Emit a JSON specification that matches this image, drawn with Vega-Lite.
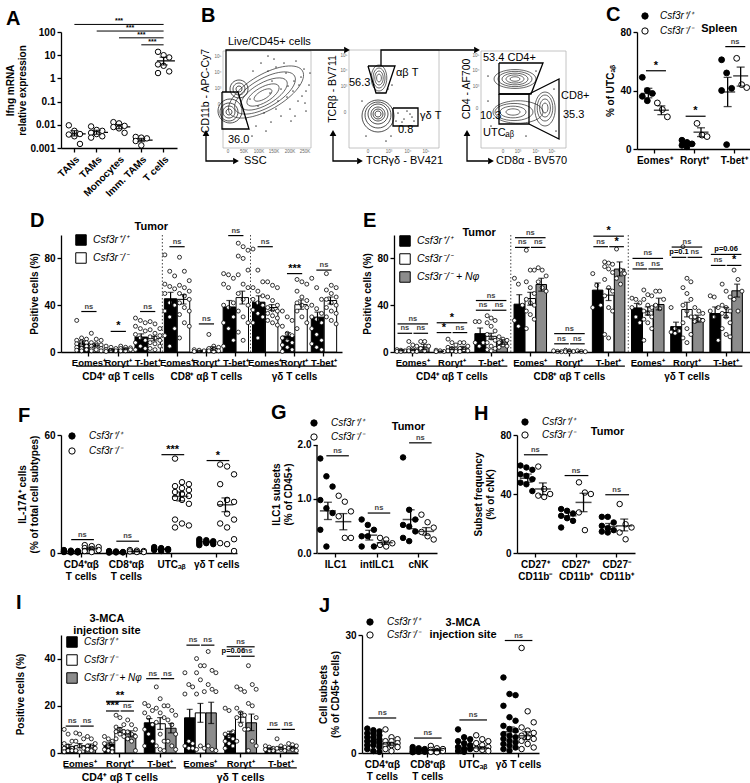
{
"$schema": "https://vega.github.io/schema/vega-lite/v6.json",
"padding": {"left": 5, "top": 5, "right": 0, "bottom": 0},
"background": "white",
"spacing": 12,
"resolve": {"scale": {"fill": "independent", "shape": "independent", "size": "independent", "color": "independent"}, "legend": {"fill": "independent", "shape": "independent", "size": "independent"}},
"config": {
 "font": "Liberation Sans",
 "view": {"stroke": null},
 "axis": {"grid": false, "domainColor": "black", "tickColor": "black", "domainWidth": 1.3, "tickWidth": 1.3, "tickSize": 4, "labelColor": "black", "labelFont": "Liberation Sans", "labelFontSize": 10, "labelFontWeight": "bold", "titleColor": "black", "titleFont": "Liberation Sans", "titleFontSize": 10, "titleFontWeight": "bold", "labelPadding": 2, "titlePadding": 4},
 "title": {"font": "Liberation Sans", "fontSize": 20, "fontWeight": "bold", "anchor": "start", "color": "black", "offset": 4},
 "legend": {"labelFont": "Liberation Sans", "labelFontStyle": "italic", "labelFontSize": 10, "labelColor": "black", "symbolStrokeColor": "black", "symbolStrokeWidth": 1, "rowPadding": 3, "labelOffset": 6, "padding": 0},
 "text": {"font": "Liberation Sans", "color": "black"}
},
"datasets": {
 "A": [
  {"c":"TANs","mean":0.0041,"lo":0.0033,"hi":0.0056,"v":[0.0095,0.0055,0.004,0.0038,0.0032,0.0015]},
  {"c":"TAMs","mean":0.0047,"lo":0.0039,"hi":0.0058,"v":[0.0085,0.006,0.0055,0.0045,0.004,0.0032,0.0028]},
  {"c":"Monocytes","mean":0.0082,"lo":0.0068,"hi":0.0102,"v":[0.013,0.0115,0.009,0.008,0.007,0.0045]},
  {"c":"Imm. TAMs","mean":0.0022,"lo":0.0019,"hi":0.0026,"v":[0.003,0.0028,0.0026,0.002,0.0013]},
  {"c":"T cells","mean":5.7,"lo":3.8,"hi":8.2,"v":[14,10,8,4,3.5,2,1.7]}
 ],
 "Asig": [{"a":"TANs","b":"T cells","y":212},{"a":"TAMs","b":"T cells","y":110},{"a":"Monocytes","b":"T cells","y":56},{"a":"Imm. TAMs","b":"T cells","y":28}],
 "Atxt": [{"c":"Monocytes","y":212,"g":"c"},{"c":"Imm. TAMs","y":110,"g":"e"},{"c":"Imm. TAMs","y":56,"g":"c"},{"c":"T cells","y":28,"g":"e"}],
 "Bframe": [{"x":217,"x2":305,"y":50,"y2":147},{"x":343,"x2":433,"y":49,"y2":147},{"x":475,"x2":560,"y":50,"y2":147}],
 "Bline": [
  {"g":"g1","o":1,"x":216,"y":91},{"g":"g1","o":2,"x":232,"y":91},{"g":"g1","o":3,"x":243,"y":128},{"g":"g1","o":4,"x":216,"y":128},{"g":"g1","o":5,"x":216,"y":91},
  {"g":"g2","o":1,"x":362,"y":65},{"g":"g2","o":2,"x":389,"y":65},{"g":"g2","o":3,"x":380,"y":92},{"g":"g2","o":4,"x":370,"y":92},{"g":"g2","o":5,"x":362,"y":65},
  {"g":"g3","o":1,"x":387,"y":107},{"g":"g3","o":2,"x":412,"y":107},{"g":"g3","o":3,"x":412,"y":125},{"g":"g3","o":4,"x":387,"y":125},{"g":"g3","o":5,"x":387,"y":107},
  {"g":"g4","o":1,"x":493,"y":62},{"g":"g4","o":2,"x":537,"y":62},{"g":"g4","o":3,"x":525,"y":93},{"g":"g4","o":4,"x":493,"y":93},{"g":"g4","o":5,"x":493,"y":62},
  {"g":"g5","o":1,"x":493,"y":93},{"g":"g5","o":2,"x":523,"y":93},{"g":"g5","o":3,"x":523,"y":123},{"g":"g5","o":4,"x":493,"y":123},{"g":"g5","o":5,"x":493,"y":93},
  {"g":"g6","o":1,"x":523,"y":93},{"g":"g6","o":2,"x":553,"y":78},{"g":"g6","o":3,"x":553,"y":138},{"g":"g6","o":4,"x":523,"y":123},
  {"g":"a1","o":1,"x":220,"y":91},{"g":"a1","o":2,"x":220,"y":49},{"g":"a1","o":3,"x":338,"y":49},
  {"g":"a2","o":1,"x":375,"y":65},{"g":"a2","o":2,"x":375,"y":49},{"g":"a2","o":3,"x":468,"y":49},
  {"g":"L1","o":1,"x":200,"y":135},{"g":"L1","o":2,"x":200,"y":160},{"g":"L1","o":3,"x":227,"y":160},
  {"g":"L2","o":1,"x":327,"y":135},{"g":"L2","o":2,"x":327,"y":160},{"g":"L2","o":3,"x":351,"y":160},
  {"g":"L3","o":1,"x":461,"y":135},{"g":"L3","o":2,"x":461,"y":160},{"g":"L3","o":3,"x":482,"y":160}
 ],
 "Bhead": [{"x":341,"y":49,"d":"r"},{"x":471,"y":49,"d":"r"},{"x":230,"y":160,"d":"r"},{"x":354,"y":160,"d":"r"},{"x":485,"y":160,"d":"r"},{"x":200,"y":132,"d":"u"},{"x":327,"y":132,"d":"u"},{"x":461,"y":132,"d":"u"}],
 "Btext": [
  {"x":222,"y":41,"t":"Live/CD45+ cells"},{"x":222,"y":139,"t":"36.0"},{"x":343,"y":82,"t":"56.3"},{"x":390,"y":72,"t":"αβ T"},{"x":414,"y":115,"t":"γδ T"},{"x":392,"y":129,"t":"0.8"},
  {"x":477,"y":57,"t":"53.4 CD4+"},{"x":474,"y":115,"t":"10.3"},{"x":477,"y":132,"t":"UTCₐᵦ"},{"x":555,"y":95,"t":"CD8+"},{"x":557,"y":114,"t":"35.3"},
  {"x":238,"y":160,"t":"SSC"},{"x":360,"y":160,"t":"TCRγδ - BV421"},{"x":490,"y":160,"t":"CD8α - BV570"}
 ],
 "Btick": [
  {"x":222,"y":151,"t":"0"},{"x":238,"y":151,"t":"50K"},{"x":253,"y":151,"t":"100K"},{"x":268,"y":151,"t":"150K"},{"x":284,"y":151,"t":"200K"},{"x":299,"y":151,"t":"250K"},
  {"x":212,"y":56,"t":"10⁵"},{"x":212,"y":72,"t":"10⁴"},{"x":212,"y":88,"t":"10³"},{"x":213,"y":104,"t":"0"},
  {"x":362,"y":151,"t":"0"},{"x":383,"y":151,"t":"10³"},{"x":402,"y":151,"t":"10⁴"},{"x":420,"y":151,"t":"10⁵"},
  {"x":338,"y":55,"t":"10⁵"},{"x":338,"y":70,"t":"10⁴"},{"x":338,"y":86,"t":"10³"},{"x":339,"y":112,"t":"0"},
  {"x":497,"y":151,"t":"0"},{"x":512,"y":151,"t":"10³"},{"x":530,"y":151,"t":"10⁴"},{"x":546,"y":151,"t":"10⁵"},
  {"x":470,"y":55,"t":"10⁵"},{"x":470,"y":70,"t":"10⁴"},{"x":470,"y":86,"t":"10³"},{"x":471,"y":108,"t":"0"}
 ],
 "Bytitle": [{"x":200,"y":90,"t":"CD11b - APC-Cy7"},{"x":327,"y":88,"t":"TCRβ - BV711"},{"x":461,"y":88,"t":"CD4 - AF700"}],
 "Bcont": [
  {"x":257,"y":94,"r":10,"sh":"d"},{"x":257,"y":94,"r":18,"sh":"d"},{"x":258,"y":93,"r":26,"sh":"d"},{"x":259,"y":92,"r":34,"sh":"d"},{"x":260,"y":91,"r":42,"sh":"d"},
  {"x":233,"y":88,"r":3,"sh":"r"},{"x":233,"y":88,"r":6,"sh":"r"},{"x":233,"y":88,"r":9,"sh":"r"},
  {"x":223,"y":111,"r":3,"sh":"r"},{"x":223,"y":111,"r":6,"sh":"r"},{"x":223,"y":111,"r":9,"sh":"r"},{"x":224,"y":110,"r":12,"sh":"r"},
  {"x":373,"y":77,"r":4,"sh":"t"},{"x":373,"y":77,"r":7,"sh":"t"},{"x":373,"y":77,"r":10,"sh":"t"},{"x":373,"y":77,"r":13,"sh":"t"},
  {"x":372,"y":113,"r":3,"sh":"r"},{"x":372,"y":113,"r":5,"sh":"r"},{"x":372,"y":113,"r":7,"sh":"r"},{"x":372,"y":113,"r":10,"sh":"r"},{"x":372,"y":114,"r":13,"sh":"r"},{"x":372,"y":115,"r":16,"sh":"r"},
  {"x":509,"y":78,"r":5,"sh":"w"},{"x":509,"y":78,"r":9,"sh":"w"},{"x":509,"y":78,"r":13,"sh":"w"},{"x":509,"y":78,"r":17,"sh":"w"},{"x":509,"y":78,"r":21,"sh":"w"},
  {"x":539,"y":107,"r":5,"sh":"t"},{"x":539,"y":107,"r":9,"sh":"t"},{"x":539,"y":107,"r":13,"sh":"t"},{"x":539,"y":108,"r":17,"sh":"t"},
  {"x":507,"y":111,"r":7,"sh":"w"},{"x":507,"y":111,"r":13,"sh":"w"},{"x":508,"y":111,"r":19,"sh":"w"},{"x":512,"y":111,"r":25,"sh":"w"}
 ],
 "Bdust": [
  {"x":255,"y":62},{"x":262,"y":70},{"x":270,"y":66},{"x":280,"y":72},{"x":288,"y":80},{"x":295,"y":76},{"x":300,"y":90},{"x":292,"y":100},{"x":284,"y":108},{"x":275,"y":115},
  {"x":265,"y":121},{"x":258,"y":112},{"x":250,"y":125},{"x":240,"y":118},{"x":268,"y":58},{"x":278,"y":62},{"x":290,"y":60},{"x":298,"y":68},{"x":303,"y":84},{"x":285,"y":120},
  {"x":300,"y":110},{"x":247,"y":70},{"x":262,"y":55},{"x":275,"y":88},{"x":296,"y":95},{"x":304,"y":72},{"x":282,"y":85},{"x":289,"y":115},{"x":246,"y":135},{"x":260,"y":130},
  {"x":266,"y":80},{"x":272,"y":100},{"x":281,"y":96},{"x":287,"y":90},{"x":293,"y":84},{"x":299,"y":102},{"x":270,"y":108},{"x":264,"y":92},{"x":252,"y":105},{"x":244,"y":98},
  {"x":392,"y":112},{"x":398,"y":118},{"x":404,"y":113},{"x":396,"y":121},{"x":408,"y":120},{"x":401,"y":110},{"x":390,"y":120},{"x":406,"y":116},{"x":382,"y":88},{"x":386,"y":84},
  {"x":360,"y":135},{"x":385,"y":135},{"x":380,"y":140},{"x":356,"y":100},
  {"x":482,"y":75},{"x":485,"y":125},{"x":550,"y":130},{"x":500,"y":135},{"x":530,"y":70},{"x":548,"y":88},{"x":482,"y":100},{"x":520,"y":135}
 ],
 "C": [
  {"c":"Eomes⁺","k":"w","mean":38,"lo":35,"hi":41.5,"v":[49,40,38,36,33]},
  {"c":"Eomes⁺","k":"k","mean":26.5,"lo":23.5,"hi":29.5,"v":[31.5,27,22]},
  {"c":"Rorγt⁺","k":"w","mean":3.6,"lo":2.5,"hi":4.7,"v":[6,4.5,3.5,2.5,1.5]},
  {"c":"Rorγt⁺","k":"k","mean":11.5,"lo":8.5,"hi":14.5,"v":[17.5,9.5,8.5]},
  {"c":"T-bet⁺","k":"w","mean":39,"lo":29,"hi":49,"v":[61,52,41.5,40,3]},
  {"c":"T-bet⁺","k":"k","mean":50,"lo":43,"hi":56,"v":[62,44,42]}
 ],
 "Csig": [{"c":"Eomes⁺","y":53.5,"t":"*"},{"c":"Rorγt⁺","y":22.4,"t":"*"},{"c":"T-bet⁺","y":70,"t":"ns"}],
 "Cnote": [{"c":"T-bet⁺","y":82,"t":"Spleen"}],
 "D": [
  {"c":"CD4|Eomes⁺","k":"w","mean":7.7,"lo":6,"hi":9.5,"v":[27,12,11,10,9,8,7,6,5,4,3,2,1.5,1]},
  {"c":"CD4|Eomes⁺","k":"k","mean":5.7,"lo":4.5,"hi":7,"v":[16,11,10,8,7,6,5,4,3,2.5,2,1,1]},
  {"c":"CD4|Rorγt⁺","k":"w","mean":2,"lo":1.4,"hi":2.6,"v":[5,4,3,2,1.5,1,0.5]},
  {"c":"CD4|Rorγt⁺","k":"k","mean":2.6,"lo":1.9,"hi":3.3,"v":[5,4,3.5,3,2,2,1,1]},
  {"c":"CD4|T-bet⁺","k":"w","mean":12.8,"lo":10.5,"hi":15.5,"v":[29,27,25,22,20,18,15,12,10,8,5,3,2]},
  {"c":"CD4|T-bet⁺","k":"k","mean":11.4,"lo":9.5,"hi":13.5,"v":[26,24,20,19,16,14,13,12,10,8,7,5,3,2]},
  {"c":"CD8|Eomes⁺","k":"w","mean":45.5,"lo":40,"hi":51,"v":[83,69,65,58,56,54,50,42,40,35,30,20,14,5]},
  {"c":"CD8|Eomes⁺","k":"k","mean":45,"lo":41,"hi":49,"v":[81,69,61,57,55,52,50,48,45,42,38,35,32,25,22,12]},
  {"c":"CD8|Rorγt⁺","k":"w","mean":1,"lo":0.6,"hi":1.4,"v":[2,1.5,1,0.5]},
  {"c":"CD8|Rorγt⁺","k":"k","mean":3,"lo":1.5,"hi":4.5,"v":[15,5,4,3,2,1,1,0.5]},
  {"c":"CD8|T-bet⁺","k":"w","mean":38.5,"lo":33,"hi":44,"v":[67,66,63,58,55,42,40,38,30,25,20,10,5]},
  {"c":"CD8|T-bet⁺","k":"k","mean":46.5,"lo":41,"hi":52,"v":[93,90,87,82,80,70,66,58,55,50,45,40,35,30,25,17,10]},
  {"c":"γδ|Eomes⁺","k":"w","mean":42.6,"lo":38,"hi":48,"v":[88,70,60,55,52,48,45,42,40,36,33,30,25,12]},
  {"c":"γδ|Eomes⁺","k":"k","mean":38,"lo":35.5,"hi":40.5,"v":[60,57,55,47,44,40,38,36,35,33,31,29,27,25,23]},
  {"c":"γδ|Rorγt⁺","k":"w","mean":13.6,"lo":10.5,"hi":16.5,"v":[35,30,27,22,16,14,12,10,8,6,4,2,0.5]},
  {"c":"γδ|Rorγt⁺","k":"k","mean":40.5,"lo":36.5,"hi":44.5,"v":[62,60,58,52,47,44,42,40,38,35,30,25,20]},
  {"c":"γδ|T-bet⁺","k":"w","mean":29.8,"lo":25.5,"hi":34,"v":[63,55,45,40,37,33,30,28,25,20,15,10,7,4,2]},
  {"c":"γδ|T-bet⁺","k":"k","mean":44,"lo":41,"hi":47,"v":[67,57,55,53,50,47,45,42,40,38,35,33,30,27,24]}
 ],
 "Dsig": [{"c":"CD4|Eomes⁺","y":34.6,"t":"ns"},{"c":"CD4|Rorγt⁺","y":17.6,"t":"*"},{"c":"CD4|T-bet⁺","y":34.6,"t":"ns"},{"c":"CD8|Eomes⁺","y":90,"t":"ns"},{"c":"CD8|Rorγt⁺","y":24,"t":"ns"},{"c":"CD8|T-bet⁺","y":99.5,"t":"ns"},{"c":"γδ|Eomes⁺","y":90,"t":"ns"},{"c":"γδ|Rorγt⁺","y":67,"t":"***"},{"c":"γδ|T-bet⁺","y":70,"t":"ns"}],
 "Dsep": [{"c":"CD8|Eomes⁺"},{"c":"γδ|Eomes⁺"}],
 "Dgrp": [{"a":"CD4|Eomes⁺","b":"CD4|T-bet⁺","m":"CD4|Rorγt⁺","t":"CD4⁺ αβ T cells"},{"a":"CD8|Eomes⁺","b":"CD8|T-bet⁺","m":"CD8|Rorγt⁺","t":"CD8⁺ αβ T cells"},{"a":"γδ|Eomes⁺","b":"γδ|T-bet⁺","m":"γδ|Rorγt⁺","t":"γδ T cells"}],
 "Dnote": [{"c":"CD4|T-bet⁺","y":106.8,"t":"Tumor"}],
 "E": [
  {"c":"CD4|Eomes⁺","k":"w","mean":1.4,"lo":1,"hi":1.8,"v":[2,1.5,1,0.5,0.5]},
  {"c":"CD4|Eomes⁺","k":"k","mean":1.8,"lo":1.2,"hi":2.4,"v":[9,6,5,3,2,1,1,0.5,0.5]},
  {"c":"CD4|Eomes⁺","k":"n","mean":4.3,"lo":2,"hi":6.5,"v":[9,9,5,3,1]},
  {"c":"CD4|Rorγt⁺","k":"w","mean":0.6,"lo":0.4,"hi":0.8,"v":[1.5,1,0.5,0.3]},
  {"c":"CD4|Rorγt⁺","k":"k","mean":3,"lo":2,"hi":4,"v":[11,8,6,4,3,2,1,1,0.5]},
  {"c":"CD4|Rorγt⁺","k":"n","mean":3.5,"lo":2.2,"hi":4.8,"v":[8,8,5,3,2,1,0.5]},
  {"c":"CD4|T-bet⁺","k":"w","mean":15.7,"lo":11,"hi":20.5,"v":[26,26,8,8,5]},
  {"c":"CD4|T-bet⁺","k":"k","mean":13.4,"lo":11,"hi":16,"v":[31,29,27,25,22,18,15,12,10,8,5,3,2,1]},
  {"c":"CD4|T-bet⁺","k":"n","mean":8.6,"lo":6.5,"hi":10.5,"v":[13,11,10,8,6,5,4]},
  {"c":"CD8|Eomes⁺","k":"w","mean":40.9,"lo":31,"hi":49,"v":[63,58,40,27,22]},
  {"c":"CD8|Eomes⁺","k":"k","mean":45.7,"lo":40,"hi":51,"v":[87,70,70,60,55,50,45,42,40,35,32,28,20]},
  {"c":"CD8|Eomes⁺","k":"n","mean":57.7,"lo":52,"hi":63,"v":[72,70,65,60,55,52]},
  {"c":"CD8|Rorγt⁺","k":"w","mean":0.5,"lo":0.3,"hi":0.7,"v":[1,0.5,0.3]},
  {"c":"CD8|Rorγt⁺","k":"k","mean":0.6,"lo":0.3,"hi":0.9,"v":[1.5,1,0.5,0.3,0.3]},
  {"c":"CD8|Rorγt⁺","k":"n","mean":0.5,"lo":0.3,"hi":0.7,"v":[1,0.5,0.3]},
  {"c":"CD8|T-bet⁺","k":"w","mean":52.9,"lo":47,"hi":59,"v":[67,57,40,38]},
  {"c":"CD8|T-bet⁺","k":"k","mean":48.6,"lo":44,"hi":54,"v":[77,76,75,73,71,68,62,55,52,48,38,35,15,12]},
  {"c":"CD8|T-bet⁺","k":"n","mean":70.9,"lo":65,"hi":77,"v":[88,70,67,63,58]},
  {"c":"γδ|Eomes⁺","k":"w","mean":37.7,"lo":34,"hi":41.5,"v":[46,45,42,38,30,25]},
  {"c":"γδ|Eomes⁺","k":"k","mean":35,"lo":31.5,"hi":38.5,"v":[53,49,48,45,40,38,35,33,30,28,25,20,10]},
  {"c":"γδ|Eomes⁺","k":"n","mean":40.6,"lo":36,"hi":46,"v":[52,52,45,40,37]},
  {"c":"γδ|Rorγt⁺","k":"w","mean":21.7,"lo":18,"hi":25.5,"v":[38,20,18,17,16]},
  {"c":"γδ|Rorγt⁺","k":"k","mean":36.3,"lo":30,"hi":42.5,"v":[90,63,60,55,50,45,40,35,30,25,20,15,12,8]},
  {"c":"γδ|Rorγt⁺","k":"n","mean":28.6,"lo":25.5,"hi":31.5,"v":[38,35,33,30,28,27,26]},
  {"c":"γδ|T-bet⁺","k":"w","mean":32.9,"lo":28,"hi":38.5,"v":[48,47,38,35,30,10]},
  {"c":"γδ|T-bet⁺","k":"k","mean":33.7,"lo":29.5,"hi":38,"v":[58,52,47,40,38,35,33,30,25,20,15,13]},
  {"c":"γδ|T-bet⁺","k":"n","mean":52.3,"lo":47,"hi":58,"v":[70,62,52,45,35]}
 ],
 "Esig": [
  {"c":"CD4|Eomes⁺","p":"A","y":24,"t":"ns"},{"c":"CD4|Eomes⁺","p":"L","y":16,"t":"ns"},{"c":"CD4|Eomes⁺","p":"R","y":16,"t":"ns"},
  {"c":"CD4|Rorγt⁺","p":"A","y":25,"t":"*"},{"c":"CD4|Rorγt⁺","p":"L","y":16.6,"t":"*"},{"c":"CD4|Rorγt⁺","p":"R","y":16.6,"t":"ns"},
  {"c":"CD4|T-bet⁺","p":"A","y":44,"t":"ns"},{"c":"CD4|T-bet⁺","p":"L","y":35.7,"t":"ns"},{"c":"CD4|T-bet⁺","p":"R","y":35.7,"t":"ns"},
  {"c":"CD8|Eomes⁺","p":"A","y":97.7,"t":"ns"},{"c":"CD8|Eomes⁺","p":"L","y":89.4,"t":"ns"},{"c":"CD8|Eomes⁺","p":"R","y":89.4,"t":"ns"},
  {"c":"CD8|Rorγt⁺","p":"A","y":15.7,"t":"ns"},{"c":"CD8|Rorγt⁺","p":"L","y":7,"t":"ns"},{"c":"CD8|Rorγt⁺","p":"R","y":7,"t":"ns"},
  {"c":"CD8|T-bet⁺","p":"A","y":99,"t":"*"},{"c":"CD8|T-bet⁺","p":"L","y":90,"t":"ns"},{"c":"CD8|T-bet⁺","p":"R","y":90,"t":"*"},
  {"c":"γδ|Eomes⁺","p":"A","y":80,"t":"ns"},{"c":"γδ|Eomes⁺","p":"L","y":71,"t":"ns"},{"c":"γδ|Eomes⁺","p":"R","y":71,"t":"ns"},
  {"c":"γδ|Rorγt⁺","p":"A","y":89.7,"t":"ns"},{"c":"γδ|Rorγt⁺","p":"L","y":80.9,"t":"p=0.1"},{"c":"γδ|Rorγt⁺","p":"R","y":80.9,"t":"ns"},
  {"c":"γδ|T-bet⁺","p":"A","y":83.4,"t":"p=0.06"},{"c":"γδ|T-bet⁺","p":"L","y":74,"t":"ns"},{"c":"γδ|T-bet⁺","p":"R","y":74,"t":"*"}
 ],
 "Enote": [{"c":"CD4|T-bet⁺","y":101.7,"t":"Tumor"}],
 "F": [
  {"c":"CD4⁺αβ|T cells","k":"w","mean":0.8,"lo":0.6,"hi":1.0,"v":[1.5,1.2,1,0.8,0.7,0.5,0.5,0.3,0.3]},
  {"c":"CD4⁺αβ|T cells","k":"k","mean":2.2,"lo":1.6,"hi":2.8,"v":[4,3.5,3,2.5,2,1.5,1,0.5]},
  {"c":"CD8⁺αβ|T cells","k":"w","mean":0.5,"lo":0.4,"hi":0.6,"v":[1,0.8,0.5,0.5,0.3,0.3,0.2]},
  {"c":"CD8⁺αβ|T cells","k":"k","mean":0.8,"lo":0.6,"hi":1.0,"v":[1.5,1.2,1,0.8,0.5,0.5]},
  {"c":"UTCₐᵦ","k":"w","mean":1.9,"lo":1.7,"hi":2.1,"v":[3,2.5,2,2,1.8,1.5,1.5,1]},
  {"c":"UTCₐᵦ","k":"k","mean":28.8,"lo":26.5,"hi":31,"v":[48,36,35,34,33,32,31,30,29,28,27,25,17,15,14,13]},
  {"c":"γδ T cells","k":"w","mean":5.7,"lo":5.4,"hi":6,"v":[7,6.5,6,6,5.5,5.5,5,5,4.5,4]},
  {"c":"γδ T cells","k":"k","mean":24.5,"lo":21,"hi":28,"v":[45,44,40,35,27,26,25,20,17,15,13,7,5,4.5,1]}
 ],
 "Fsig": [{"c":"CD4⁺αβ|T cells","y":6.8,"t":"ns"},{"c":"CD8⁺αβ|T cells","y":6,"t":"ns"},{"c":"UTCₐᵦ","y":50,"t":"***"},{"c":"γδ T cells","y":47,"t":"*"}],
 "G": [
  {"c":"ILC1","k":"w","mean":0.78,"lo":0.62,"hi":0.94,"v":[1.75,1.42,1.23,0.98,0.83,0.74,0.43,0.12]},
  {"c":"ILC1","k":"k","mean":0.58,"lo":0.43,"hi":0.73,"v":[1.06,0.95,0.77,0.68,0.28,0.28]},
  {"c":"intILC1","k":"w","mean":0.33,"lo":0.24,"hi":0.42,"v":[0.62,0.52,0.43,0.31,0.31,0.12,0.12]},
  {"c":"intILC1","k":"k","mean":0.19,"lo":0.16,"hi":0.22,"v":[0.28,0.25,0.18,0.15,0.12]},
  {"c":"cNK","k":"w","mean":0.62,"lo":0.45,"hi":0.8,"v":[1.77,0.8,0.62,0.52,0.49,0.4,0.28,0.22]},
  {"c":"cNK","k":"k","mean":0.4,"lo":0.33,"hi":0.47,"v":[0.71,0.57,0.47,0.39,0.31,0.25]}
 ],
 "Gsig": [{"c":"ILC1","y":1.8,"t":"ns"},{"c":"intILC1","y":0.74,"t":"ns"},{"c":"cNK","y":2.04,"t":"ns"}],
 "Gnote": [{"c":"cNK","y":2.33,"t":"Tumor"}],
 "Gaxis": [{"c":"ILC1","y":0,"y2":2}],
 "H": [
  {"c":"CD27⁺|CD11b⁻","k":"w","mean":50.7,"lo":48,"hi":53.5,"v":[59.3,58,56.4,53.4,52.3,50,47.7,46.6,42]},
  {"c":"CD27⁺|CD11b⁻","k":"k","mean":43.4,"lo":39.5,"hi":47.5,"v":[58.6,43.4,40,38.9,38]},
  {"c":"CD27⁺|CD11b⁺","k":"w","mean":25.2,"lo":23,"hi":27.3,"v":[29.8,28.6,26.8,25.2,23.6,21.8,17.3]},
  {"c":"CD27⁺|CD11b⁺","k":"k","mean":34.3,"lo":28,"hi":40.5,"v":[47.9,41,40,27.5,15.5]},
  {"c":"CD27⁻|CD11b⁺","k":"w","mean":18,"lo":16,"hi":20,"v":[24.5,24.5,20.7,18.4,16.8,15.5,14.5,13.9]},
  {"c":"CD27⁻|CD11b⁺","k":"k","mean":18.4,"lo":15,"hi":23,"v":[33.2,19.5,17.3,13.9,9.3]}
 ],
 "Hsig": [{"c":"CD27⁺|CD11b⁻","y":66.6,"t":"ns"},{"c":"CD27⁺|CD11b⁺","y":52.5,"t":"ns"},{"c":"CD27⁻|CD11b⁺","y":39.5,"t":"ns"}],
 "Hnote": [{"c":"CD27⁻|CD11b⁺","y":82,"t":"Tumor"}],
 "I": [
  {"c":"CD4|Eomes⁺","k":"w","mean":2.8,"lo":2,"hi":3.6,"v":[10,8,5,4,3,2,2,1,1,0.5]},
  {"c":"CD4|Eomes⁺","k":"k","mean":3.1,"lo":2.2,"hi":4,"v":[8.5,8,6,5,3,2,1,0.5]},
  {"c":"CD4|Eomes⁺","k":"n","mean":3.1,"lo":2.4,"hi":3.8,"v":[7,6,4,3,2.5,2,1.5,1]},
  {"c":"CD4|Rorγt⁺","k":"w","mean":3.8,"lo":3,"hi":4.6,"v":[7,6,5,4,3,2,1.5,1,0.5]},
  {"c":"CD4|Rorγt⁺","k":"k","mean":9.8,"lo":8.8,"hi":10.8,"v":[16,15,12,11,10,9,9,8,7,6]},
  {"c":"CD4|Rorγt⁺","k":"n","mean":8.1,"lo":6.8,"hi":9.4,"v":[14,12,10,9,8,7,6,5,1]},
  {"c":"CD4|T-bet⁺","k":"w","mean":12.8,"lo":11,"hi":14.6,"v":[21,20,18,17,15,12,10,8,5,3]},
  {"c":"CD4|T-bet⁺","k":"k","mean":12.4,"lo":10,"hi":15,"v":[28,23,20,19,17,15,13,8,5,3,1.5,1]},
  {"c":"CD4|T-bet⁺","k":"n","mean":10.5,"lo":8.5,"hi":12.5,"v":[20,18,16,14,12,8,5,3,1.5]},
  {"c":"γδ|Eomes⁺","k":"w","mean":14.9,"lo":11.5,"hi":18.5,"v":[34,29,28,25,5,4,3,2,2]},
  {"c":"γδ|Eomes⁺","k":"k","mean":17,"lo":13,"hi":21,"v":[40,37,37,34,31,26,25,3,2,1.5]},
  {"c":"γδ|Eomes⁺","k":"n","mean":17,"lo":12.5,"hi":21.5,"v":[43,35,34,29,27,26,3,1.5,1]},
  {"c":"γδ|Rorγt⁺","k":"w","mean":8.1,"lo":7,"hi":9.2,"v":[19,18,9,8,7,6,5,4,3,2]},
  {"c":"γδ|Rorγt⁺","k":"k","mean":15.2,"lo":13,"hi":17.4,"v":[28,27,26,19,17,16,15,12,10,5]},
  {"c":"γδ|Rorγt⁺","k":"n","mean":12.8,"lo":9.5,"hi":16.5,"v":[37,29,27,21,20,15,10,5,3,1]},
  {"c":"γδ|T-bet⁺","k":"w","mean":1.8,"lo":1.4,"hi":2.2,"v":[3,2.5,2,1.5,1,1]},
  {"c":"γδ|T-bet⁺","k":"k","mean":2,"lo":1.5,"hi":2.5,"v":[6,3,2.5,2,1.5,1]},
  {"c":"γδ|T-bet⁺","k":"n","mean":2.3,"lo":1.8,"hi":2.8,"v":[4,3.5,3,2,1.5,1]}
 ],
 "Isig": [
  {"c":"CD4|Eomes⁺","p":"L","y":11.4,"t":"ns"},{"c":"CD4|Eomes⁺","p":"R","y":11.4,"t":"ns"},
  {"c":"CD4|Rorγt⁺","p":"A","y":21.9,"t":"**"},{"c":"CD4|Rorγt⁺","p":"L","y":17.8,"t":"***"},{"c":"CD4|Rorγt⁺","p":"R","y":17.8,"t":"ns"},
  {"c":"CD4|T-bet⁺","p":"L","y":31.5,"t":"ns"},{"c":"CD4|T-bet⁺","p":"R","y":31.5,"t":"ns"},
  {"c":"γδ|Eomes⁺","p":"L","y":45.7,"t":"ns"},{"c":"γδ|Eomes⁺","p":"R","y":45.7,"t":"ns"},
  {"c":"γδ|Rorγt⁺","p":"A","y":45,"t":"ns"},{"c":"γδ|Rorγt⁺","p":"L","y":41,"t":"p=0.06"},{"c":"γδ|Rorγt⁺","p":"R","y":41,"t":"ns"},
  {"c":"γδ|T-bet⁺","p":"L","y":10,"t":"ns"},{"c":"γδ|T-bet⁺","p":"R","y":10,"t":"ns"}
 ],
 "Igrp": [{"a":"CD4|Eomes⁺","b":"CD4|T-bet⁺","m":"CD4|Rorγt⁺","t":"CD4⁺ αβ T cells"},{"a":"γδ|Eomes⁺","b":"γδ|T-bet⁺","m":"γδ|Rorγt⁺","t":"γδ T cells"}],
 "Inote": [{"c":"CD4|Rorγt⁺","y":56.8,"t":"3-MCA"},{"c":"CD4|Rorγt⁺","y":51.8,"t":"injection site"}],
 "J": [
  {"c":"CD4⁺αβ|T cells","k":"w","mean":3,"lo":2.6,"hi":3.4,"v":[6.2,5.8,5.5,5,5,4.5,4,4,3.5,3,3,2.5,2,2,1.5,1,0.5,0.3]},
  {"c":"CD4⁺αβ|T cells","k":"k","mean":2.3,"lo":1.9,"hi":2.7,"v":[6,4,3.5,3,3,2.5,2,2,1.5,1,0.5]},
  {"c":"CD8⁺αβ|T cells","k":"w","mean":0.8,"lo":0.7,"hi":0.9,"v":[1.5,1.2,1,1,0.8,0.5,0.5,0.3,0.3,0.2]},
  {"c":"CD8⁺αβ|T cells","k":"k","mean":0.7,"lo":0.55,"hi":0.85,"v":[1.8,1.2,1,0.8,0.5,0.5,0.3,0.2]},
  {"c":"UTCₐᵦ","k":"w","mean":1.5,"lo":1.1,"hi":1.9,"v":[6,4,3.5,3,2.5,2,1.5,1,1,0.5,0.3]},
  {"c":"UTCₐᵦ","k":"k","mean":1.3,"lo":1,"hi":1.6,"v":[4.5,3.5,3,2.5,2,1.5,1,0.8,0.5]},
  {"c":"γδ T cells","k":"w","mean":5.4,"lo":4.2,"hi":6.6,"v":[19.2,15,14.7,12,9.1,8.2,6.9,6.1,5.7,4.8,4.4,4,3.6,3.1,2.7,2.3,1.9,1.4,1,0.6]},
  {"c":"γδ T cells","k":"k","mean":4.4,"lo":3.4,"hi":5.4,"v":[26.7,10.6,7.8,6.5,5.7,5.1,4.4,4,3.6,3.1,2.3,1.4,1]}
 ],
 "Jsig": [{"c":"CD4⁺αβ|T cells","y":8.9,"t":"ns"},{"c":"CD8⁺αβ|T cells","y":3.8,"t":"ns"},{"c":"UTCₐᵦ","y":8.4,"t":"ns"},{"c":"γδ T cells","y":28.6,"t":"ns"}],
 "Jnote": [{"c":"UTCₐᵦ","y":33.1,"t":"3-MCA"},{"c":"UTCₐᵦ","y":30,"t":"injection site"}]
},
"vconcat": [
 {"hconcat": [
  {"title": {"text": "A", "offset": -12},
   "width": 116, "height": 116,
   "data": {"name": "A"},
   "encoding": {"x": {"field": "c", "type": "nominal", "sort": null, "scale": {"paddingInner": 0.4, "paddingOuter": 0.3}, "axis": {"title": null, "labelAngle": -45, "labelOverlap": false}}},
   "layer": [
    {"mark": {"type": "bar", "fill": "#c4c4c4", "stroke": "black", "strokeWidth": 1.2},
     "encoding": {"y": {"field": "mean", "type": "quantitative", "scale": {"type": "log", "domain": [0.001, 100]}, "axis": {"title": ["Ifng mRNA", "relative expression"], "values": [0.001, 0.01, 0.1, 1, 10, 100], "format": "~g", "titlePadding": 2}}}},
    {"transform": [{"flatten": ["v"], "as": ["val"]}, {"window": [{"op": "row_number", "as": "i"}], "groupby": ["c"]}, {"calculate": "'s' + (datum.i % 3)", "as": "s"}],
     "mark": {"type": "point", "shape": "circle", "filled": true, "fill": "white", "stroke": "black", "strokeWidth": 1, "size": 30, "opacity": 1},
     "encoding": {"xOffset": {"field": "s", "type": "nominal", "scale": {"domain": ["s1", "s2", "s0"], "paddingInner": 0, "paddingOuter": 0.2}}, "y": {"field": "val", "type": "quantitative"}}},
    {"mark": {"type": "rule", "color": "black", "strokeWidth": 1.3}, "encoding": {"y": {"field": "lo", "type": "quantitative"}, "y2": {"field": "hi"}}},
    {"transform": [{"fold": ["lo", "hi"], "as": ["e", "cap"]}], "mark": {"type": "tick", "color": "black", "thickness": 1.3, "size": 8}, "encoding": {"y": {"field": "cap", "type": "quantitative"}}},
    {"data": {"name": "Asig"}, "mark": {"type": "rule", "color": "black", "strokeWidth": 1}, "encoding": {"x": {"field": "a", "type": "nominal", "sort": null}, "x2": {"field": "b"}, "y": {"field": "y", "type": "quantitative"}}},
    {"data": {"name": "Atxt"}, "transform": [{"filter": "datum.g == 'c'"}], "mark": {"type": "text", "baseline": "middle", "dy": -3, "fontSize": 7, "fontWeight": "bold"}, "encoding": {"x": {"field": "c", "type": "nominal", "sort": null}, "y": {"field": "y", "type": "quantitative"}, "text": {"value": "***"}}},
    {"data": {"name": "Atxt"}, "transform": [{"filter": "datum.g == 'e'"}], "mark": {"type": "text", "baseline": "middle", "dy": -3, "fontSize": 7, "fontWeight": "bold"}, "encoding": {"x": {"field": "c", "type": "nominal", "sort": null, "bandPosition": -0.333}, "y": {"field": "y", "type": "quantitative"}, "text": {"value": "***"}}}
   ]},
  {"width": 422, "height": 116,
   "encoding": {"x": {"field": "x", "type": "quantitative", "scale": {"domain": [190, 612], "nice": false, "zero": false}, "axis": null}, "y": {"field": "y", "type": "quantitative", "scale": {"domain": [31, 147], "reverse": true, "nice": false, "zero": false}, "axis": null}},
   "layer": [
    {"data": {"values": [{"x": 195, "y": 5, "t": "B"}]}, "mark": {"type": "text", "align": "left", "baseline": "top", "fontSize": 20, "fontWeight": "bold"}, "encoding": {"text": {"field": "t"}}},
    {"data": {"name": "Bframe"}, "mark": {"type": "rect", "fill": "white", "fillOpacity": 0, "stroke": "#b5b5b5", "strokeWidth": 0.8}, "encoding": {"x2": {"field": "x2"}, "y2": {"field": "y2"}}},
    {"data": {"name": "Bdust"}, "mark": {"type": "point", "shape": "circle", "filled": true, "color": "#555", "size": 3, "opacity": 1}, "encoding": {}},
    {"data": {"name": "Bcont"}, "transform": [{"filter": "datum.sh == 'd'"}], "mark": {"type": "point", "shape": "M -0.87 0.5 A 1 0.42 -30 1 1 0.87 -0.5 A 1 0.42 -30 1 1 -0.87 0.5 Z", "filled": false, "stroke": "#222", "strokeWidth": 0.7, "opacity": 1}, "encoding": {"size": {"field": "r", "type": "quantitative", "scale": {"type": "pow", "exponent": 2, "domain": [0, 50], "range": [0, 10000]}, "legend": null}}},
    {"data": {"name": "Bcont"}, "transform": [{"filter": "datum.sh == 'w'"}], "mark": {"type": "point", "shape": "M -1 0 A 1 0.45 0 1 1 1 0 A 1 0.45 0 1 1 -1 0 Z", "filled": false, "stroke": "#222", "strokeWidth": 0.7, "opacity": 1}, "encoding": {"size": {"field": "r", "type": "quantitative", "scale": {"type": "pow", "exponent": 2, "domain": [0, 50], "range": [0, 10000]}, "legend": null}}},
    {"data": {"name": "Bcont"}, "transform": [{"filter": "datum.sh == 't'"}], "mark": {"type": "point", "shape": "M 0 -1 A 0.6 1 0 1 1 0 1 A 0.6 1 0 1 1 0 -1 Z", "filled": false, "stroke": "#222", "strokeWidth": 0.7, "opacity": 1}, "encoding": {"size": {"field": "r", "type": "quantitative", "scale": {"type": "pow", "exponent": 2, "domain": [0, 50], "range": [0, 10000]}, "legend": null}}},
    {"data": {"name": "Bcont"}, "transform": [{"filter": "datum.sh == 'r'"}], "mark": {"type": "point", "shape": "M -1 0 A 1 1 0 1 1 1 0 A 1 1 0 1 1 -1 0 Z", "filled": false, "stroke": "#222", "strokeWidth": 0.8, "opacity": 1}, "encoding": {"size": {"field": "r", "type": "quantitative", "scale": {"type": "pow", "exponent": 2, "domain": [0, 50], "range": [0, 10000]}, "legend": null}}},
    {"data": {"name": "Bline"}, "mark": {"type": "line", "color": "black", "strokeWidth": 1.3}, "encoding": {"detail": {"field": "g"}, "order": {"field": "o", "type": "quantitative"}}},
    {"data": {"name": "Bhead"}, "mark": {"type": "point", "filled": true, "color": "black", "size": 45, "opacity": 1}, "encoding": {"shape": {"field": "d", "type": "nominal", "scale": {"domain": ["r", "u"], "range": ["triangle-right", "triangle-up"]}, "legend": null}}},
    {"data": {"name": "Btext"}, "mark": {"type": "text", "align": "left", "baseline": "middle", "fontSize": 11}, "encoding": {"text": {"field": "t"}}},
    {"data": {"name": "Btick"}, "mark": {"type": "text", "align": "center", "baseline": "middle", "fontSize": 4.5, "color": "#666"}, "encoding": {"text": {"field": "t"}}},
    {"data": {"name": "Bytitle"}, "mark": {"type": "text", "align": "center", "baseline": "middle", "fontSize": 10.5, "angle": 270}, "encoding": {"text": {"field": "t"}}}
   ]},
  {"title": {"text": "C", "offset": -14},
   "width": 115, "height": 117,
   "data": {"name": "C"},
   "resolve": {"scale": {"xOffset": "independent"}},
   "encoding": {"x": {"field": "c", "type": "nominal", "sort": null, "scale": {"paddingInner": 0.2, "paddingOuter": 0.05}, "axis": {"title": null, "labelAngle": 0}}},
   "layer": [
    {"transform": [{"flatten": ["v"], "as": ["val"]}, {"window": [{"op": "row_number", "as": "i"}], "groupby": ["c", "k"]}, {"calculate": "datum.k + (datum.i % 3)", "as": "s"}],
     "mark": {"type": "point", "shape": "circle", "filled": true, "size": 34, "stroke": "black", "strokeWidth": 1, "opacity": 1},
     "encoding": {"xOffset": {"field": "s", "type": "nominal", "scale": {"domain": ["w1", "w2", "w0", "k1", "k2", "k0"], "paddingInner": 0, "paddingOuter": 0.66}},
      "y": {"field": "val", "type": "quantitative", "scale": {"domain": [0, 80]}, "axis": {"title": "% of UTCₐᵦ", "values": [0, 20, 40, 60, 80]}},
      "fill": {"field": "k", "type": "nominal", "scale": {"domain": ["w", "k"], "range": ["black", "white"]}, "legend": {"title": null, "orient": "none", "legendX": 3, "legendY": -21, "symbolType": "circle", "symbolSize": 40, "labelExpr": "datum.value == 'w' ? 'Csf3r⁺/⁺' : 'Csf3r⁻/⁻'", "labelOffset": 10}}}},
    {"mark": {"type": "tick", "color": "black", "thickness": 1.5, "size": 15}, "encoding": {"xOffset": {"field": "k", "type": "nominal", "scale": {"domain": ["w", "k"], "paddingInner": 0, "paddingOuter": 0.22}}, "y": {"field": "mean", "type": "quantitative"}}},
    {"mark": {"type": "rule", "color": "black", "strokeWidth": 1.3}, "encoding": {"xOffset": {"field": "k", "type": "nominal", "scale": {"domain": ["w", "k"], "paddingInner": 0, "paddingOuter": 0.22}}, "y": {"field": "lo", "type": "quantitative"}, "y2": {"field": "hi"}}},
    {"transform": [{"fold": ["lo", "hi"], "as": ["e", "cap"]}], "mark": {"type": "tick", "color": "black", "thickness": 1.3, "size": 8}, "encoding": {"xOffset": {"field": "k", "type": "nominal", "scale": {"domain": ["w", "k"], "paddingInner": 0, "paddingOuter": 0.22}}, "y": {"field": "cap", "type": "quantitative"}}},
    {"data": {"name": "Csig"}, "mark": {"type": "rule", "color": "black", "strokeWidth": 1.2}, "encoding": {"x": {"field": "c", "type": "nominal", "sort": null, "bandPosition": 0.22}, "x2": {"field": "c", "bandPosition": 0.85}, "y": {"field": "y", "type": "quantitative"}}},
    {"data": {"name": "Csig"}, "mark": {"type": "text", "baseline": "middle", "dy": -5, "fontWeight": "bold"}, "encoding": {"x": {"field": "c", "type": "nominal", "sort": null, "bandPosition": 0.53}, "y": {"field": "y", "type": "quantitative"}, "text": {"field": "t"}, "size": {"condition": {"test": "datum.t == 'ns'", "value": 7.5}, "value": 11}, "color": {"condition": {"test": "datum.t == 'ns'", "value": "#444"}, "value": "black"}}},
    {"data": {"name": "Cnote"}, "mark": {"type": "text", "fontWeight": "bold", "fontSize": 11, "baseline": "middle"}, "encoding": {"x": {"field": "c", "type": "nominal", "sort": null, "bandPosition": 0.03}, "y": {"field": "y", "type": "quantitative"}, "text": {"field": "t"}}}
   ]}
 ], "spacing": 19, "bounds": "flush",
 "resolve": {"scale": {"fill": "independent", "shape": "independent", "size": "independent", "color": "independent"}, "legend": {"fill": "independent", "shape": "independent", "size": "independent"}}},
 {"vconcat": [
  {"hconcat": [
   {"title": {"text": "D", "offset": -10},
    "width": 281, "height": 117,
    "data": {"name": "D"},
    "resolve": {"scale": {"xOffset": "independent"}},
    "encoding": {"x": {"field": "c", "type": "nominal", "sort": null, "scale": {"paddingInner": 0.136, "paddingOuter": 0.35, "align": 0.74}, "axis": {"title": null, "labelAngle": 0, "labelExpr": "split(datum.label, '|')[1]", "labelOverlap": false, "labelFontSize": 9.5, "labelPadding": 1}}},
    "layer": [
     {"mark": {"type": "bar", "stroke": "black", "strokeWidth": 1},
      "encoding": {"xOffset": {"field": "k", "type": "nominal", "scale": {"domain": ["w", "k"], "paddingInner": 0.04, "paddingOuter": 0}},
       "y": {"field": "mean", "type": "quantitative", "scale": {"domain": [0, 100]}, "axis": {"title": "Positive cells (%)", "values": [0, 20, 40, 60, 80, 100]}},
       "fill": {"field": "k", "type": "nominal", "scale": {"domain": ["w", "k"], "range": ["black", "white"]}, "legend": {"title": null, "orient": "none", "legendX": 14, "legendY": -1, "symbolType": "square", "symbolSize": 110, "labelExpr": "datum.value == 'w' ? 'Csf3r⁺/⁺' : 'Csf3r⁻/⁻'", "labelFontSize": 10.5, "rowPadding": 2}}}},
     {"transform": [{"flatten": ["v"], "as": ["val"]}, {"window": [{"op": "row_number", "as": "i"}], "groupby": ["c", "k"]}, {"calculate": "datum.k + (datum.i % 3)", "as": "s"}],
      "mark": {"type": "point", "shape": "circle", "filled": true, "fill": "white", "size": 16, "stroke": "black", "strokeWidth": 0.8, "opacity": 1},
      "encoding": {"xOffset": {"field": "s", "type": "nominal", "scale": {"domain": ["w1", "w2", "w0", "k1", "k2", "k0"], "paddingInner": 0, "paddingOuter": 0.1}}, "y": {"field": "val", "type": "quantitative"}}},
     {"mark": {"type": "rule", "color": "black", "strokeWidth": 1.2}, "encoding": {"xOffset": {"field": "k", "type": "nominal", "scale": {"domain": ["w", "k"], "paddingInner": 0.04, "paddingOuter": 0}}, "y": {"field": "lo", "type": "quantitative"}, "y2": {"field": "hi"}}},
     {"transform": [{"fold": ["lo", "hi"], "as": ["e", "cap"]}], "mark": {"type": "tick", "color": "black", "thickness": 1.2, "size": 6}, "encoding": {"xOffset": {"field": "k", "type": "nominal", "scale": {"domain": ["w", "k"], "paddingInner": 0.04, "paddingOuter": 0}}, "y": {"field": "cap", "type": "quantitative"}}},
     {"data": {"name": "Dsep"}, "mark": {"type": "rule", "color": "#444", "strokeWidth": 1, "strokeDash": [1.5, 2]}, "encoding": {"x": {"field": "c", "type": "nominal", "sort": null, "bandPosition": -0.079}, "y": {"datum": 0}, "y2": {"datum": 100}}},
     {"data": {"name": "Dsig"}, "mark": {"type": "rule", "color": "black", "strokeWidth": 1.2}, "encoding": {"x": {"field": "c", "type": "nominal", "sort": null, "bandPosition": 0.2}, "x2": {"field": "c", "bandPosition": 0.8}, "y": {"field": "y", "type": "quantitative"}}},
     {"data": {"name": "Dsig"}, "mark": {"type": "text", "baseline": "middle", "dy": -5, "fontWeight": "bold"}, "encoding": {"x": {"field": "c", "type": "nominal", "sort": null, "bandPosition": 0.5}, "y": {"field": "y", "type": "quantitative"}, "text": {"field": "t"}, "size": {"condition": {"test": "datum.t == 'ns'", "value": 7.5}, "value": 11}, "color": {"condition": {"test": "datum.t == 'ns'", "value": "#444"}, "value": "black"}}},
     {"data": {"name": "Dgrp"}, "mark": {"type": "rule", "color": "black", "strokeWidth": 1.2}, "encoding": {"x": {"field": "a", "type": "nominal", "sort": null, "bandPosition": 0}, "x2": {"field": "b", "bandPosition": 1}, "y": {"datum": -12}}},
     {"data": {"name": "Dgrp"}, "mark": {"type": "text", "baseline": "middle", "fontWeight": "bold", "fontSize": 10}, "encoding": {"x": {"field": "m", "type": "nominal", "sort": null, "bandPosition": 0.5}, "y": {"datum": -21}, "text": {"field": "t"}}},
     {"data": {"name": "Dnote"}, "mark": {"type": "text", "baseline": "middle", "fontWeight": "bold", "fontSize": 11}, "encoding": {"x": {"field": "c", "type": "nominal", "sort": null, "bandPosition": 0.64}, "y": {"field": "y", "type": "quantitative"}, "text": {"field": "t"}}}
    ]},
   {"title": {"text": "E", "offset": -6},
    "width": 356, "height": 117,
    "data": {"name": "E"},
    "resolve": {"scale": {"xOffset": "independent"}},
    "encoding": {"x": {"field": "c", "type": "nominal", "sort": null, "scale": {"paddingInner": 0.17, "paddingOuter": 0.13, "align": 0.25}, "axis": {"title": null, "labelAngle": 0, "labelExpr": "split(datum.label, '|')[1]", "labelOverlap": false, "labelFontSize": 9.5, "labelPadding": 1}}},
    "layer": [
     {"mark": {"type": "bar", "stroke": "black", "strokeWidth": 1},
      "encoding": {"xOffset": {"field": "k", "type": "nominal", "scale": {"domain": ["w", "k", "n"], "paddingInner": 0.04, "paddingOuter": 0}},
       "y": {"field": "mean", "type": "quantitative", "scale": {"domain": [0, 100]}, "axis": {"title": "Positive cells (%)", "values": [0, 20, 40, 60, 80, 100]}},
       "fill": {"field": "k", "type": "nominal", "scale": {"domain": ["w", "k", "n"], "range": ["black", "white", "#8c8c8c"]}, "legend": {"title": null, "orient": "none", "legendX": 5, "legendY": 0, "symbolType": "square", "symbolSize": 110, "labelExpr": "datum.value == 'w' ? 'Csf3r⁺/⁺' : datum.value == 'k' ? 'Csf3r⁻/⁻' : 'Csf3r⁻/⁻ + Nφ'", "labelFontSize": 10.5, "rowPadding": 2}}}},
     {"transform": [{"flatten": ["v"], "as": ["val"]}, {"window": [{"op": "row_number", "as": "i"}], "groupby": ["c", "k"]}, {"calculate": "datum.k + (datum.i % 3)", "as": "s"}],
      "mark": {"type": "point", "shape": "circle", "filled": true, "fill": "white", "size": 16, "stroke": "black", "strokeWidth": 0.8, "opacity": 1},
      "encoding": {"xOffset": {"field": "s", "type": "nominal", "scale": {"domain": ["w1", "w2", "w0", "k1", "k2", "k0", "n1", "n2", "n0"], "paddingInner": 0, "paddingOuter": 0.1}}, "y": {"field": "val", "type": "quantitative"}}},
     {"mark": {"type": "rule", "color": "black", "strokeWidth": 1.2}, "encoding": {"xOffset": {"field": "k", "type": "nominal", "scale": {"domain": ["w", "k", "n"], "paddingInner": 0.04, "paddingOuter": 0}}, "y": {"field": "lo", "type": "quantitative"}, "y2": {"field": "hi"}}},
     {"transform": [{"fold": ["lo", "hi"], "as": ["e", "cap"]}], "mark": {"type": "tick", "color": "black", "thickness": 1.2, "size": 6}, "encoding": {"xOffset": {"field": "k", "type": "nominal", "scale": {"domain": ["w", "k", "n"], "paddingInner": 0.04, "paddingOuter": 0}}, "y": {"field": "cap", "type": "quantitative"}}},
     {"data": {"name": "Dsep"}, "mark": {"type": "rule", "color": "#444", "strokeWidth": 1, "strokeDash": [1.5, 2]}, "encoding": {"x": {"field": "c", "type": "nominal", "sort": null, "bandPosition": -0.1}, "y": {"datum": 0}, "y2": {"datum": 100}}},
     {"data": {"name": "Esig"}, "transform": [{"filter": "datum.p == 'A'"}], "mark": {"type": "rule", "color": "black", "strokeWidth": 1.2}, "encoding": {"x": {"field": "c", "type": "nominal", "sort": null, "bandPosition": 0.03}, "x2": {"field": "c", "bandPosition": 0.97}, "y": {"field": "y", "type": "quantitative"}}},
     {"data": {"name": "Esig"}, "transform": [{"filter": "datum.p == 'L'"}], "mark": {"type": "rule", "color": "black", "strokeWidth": 1.2}, "encoding": {"x": {"field": "c", "type": "nominal", "sort": null, "bandPosition": 0.03}, "x2": {"field": "c", "bandPosition": 0.48}, "y": {"field": "y", "type": "quantitative"}}},
     {"data": {"name": "Esig"}, "transform": [{"filter": "datum.p == 'R'"}], "mark": {"type": "rule", "color": "black", "strokeWidth": 1.2}, "encoding": {"x": {"field": "c", "type": "nominal", "sort": null, "bandPosition": 0.52}, "x2": {"field": "c", "bandPosition": 0.97}, "y": {"field": "y", "type": "quantitative"}}},
     {"data": {"name": "Esig"}, "transform": [{"filter": "datum.p == 'A'"}], "mark": {"type": "text", "baseline": "middle", "dy": -5, "fontWeight": "bold"}, "encoding": {"x": {"field": "c", "type": "nominal", "sort": null, "bandPosition": 0.5}, "y": {"field": "y", "type": "quantitative"}, "text": {"field": "t"}, "size": {"condition": {"test": "datum.t == 'ns' || indexof(datum.t, 'p') == 0", "value": 7.5}, "value": 11}, "color": {"condition": {"test": "datum.t == 'ns'", "value": "#444"}, "value": "black"}}},
     {"data": {"name": "Esig"}, "transform": [{"filter": "datum.p == 'L'"}], "mark": {"type": "text", "baseline": "middle", "dy": -5, "fontWeight": "bold"}, "encoding": {"x": {"field": "c", "type": "nominal", "sort": null, "bandPosition": 0.255}, "y": {"field": "y", "type": "quantitative"}, "text": {"field": "t"}, "size": {"condition": {"test": "datum.t == 'ns' || indexof(datum.t, 'p') == 0", "value": 7.5}, "value": 11}, "color": {"condition": {"test": "datum.t == 'ns'", "value": "#444"}, "value": "black"}}},
     {"data": {"name": "Esig"}, "transform": [{"filter": "datum.p == 'R'"}], "mark": {"type": "text", "baseline": "middle", "dy": -5, "fontWeight": "bold"}, "encoding": {"x": {"field": "c", "type": "nominal", "sort": null, "bandPosition": 0.745}, "y": {"field": "y", "type": "quantitative"}, "text": {"field": "t"}, "size": {"condition": {"test": "datum.t == 'ns' || indexof(datum.t, 'p') == 0", "value": 7.5}, "value": 11}, "color": {"condition": {"test": "datum.t == 'ns'", "value": "#444"}, "value": "black"}}},
     {"data": {"name": "Dgrp"}, "mark": {"type": "rule", "color": "black", "strokeWidth": 1.2}, "encoding": {"x": {"field": "a", "type": "nominal", "sort": null, "bandPosition": 0}, "x2": {"field": "b", "bandPosition": 1}, "y": {"datum": -12}}},
     {"data": {"name": "Dgrp"}, "mark": {"type": "text", "baseline": "middle", "fontWeight": "bold", "fontSize": 10}, "encoding": {"x": {"field": "m", "type": "nominal", "sort": null, "bandPosition": 0.5}, "y": {"datum": -21}, "text": {"field": "t"}}},
     {"data": {"name": "Enote"}, "mark": {"type": "text", "baseline": "middle", "fontWeight": "bold", "fontSize": 11}, "encoding": {"x": {"field": "c", "type": "nominal", "sort": null, "bandPosition": 0.13}, "y": {"field": "y", "type": "quantitative"}, "text": {"field": "t"}}}
    ]}
  ], "spacing": 52, "bounds": "flush",
  "resolve": {"scale": {"fill": "independent", "shape": "independent", "size": "independent", "color": "independent"}, "legend": {"fill": "independent", "shape": "independent", "size": "independent"}}},
  {"vconcat": [
   {"hconcat": [
    {"title": {"text": "F", "offset": 4},
     "width": 176, "height": 118,
     "data": {"name": "F"},
     "resolve": {"scale": {"xOffset": "independent"}},
     "encoding": {"x": {"field": "c", "type": "nominal", "sort": null, "scale": {"paddingInner": 0.2, "paddingOuter": 0.05}, "axis": {"title": null, "labelAngle": 0, "labelExpr": "split(datum.label, '|')", "labelOverlap": false}}},
     "layer": [
      {"transform": [{"flatten": ["v"], "as": ["val"]}, {"window": [{"op": "row_number", "as": "i"}], "groupby": ["c", "k"]}, {"calculate": "datum.k + (datum.i % 3)", "as": "s"}],
       "mark": {"type": "point", "shape": "circle", "filled": true, "size": 30, "stroke": "black", "strokeWidth": 1, "opacity": 1},
       "encoding": {"xOffset": {"field": "s", "type": "nominal", "scale": {"domain": ["w1", "w2", "w0", "k1", "k2", "k0"], "paddingInner": 0, "paddingOuter": 0.1}},
        "y": {"field": "val", "type": "quantitative", "scale": {"domain": [0, 60]}, "axis": {"title": ["IL-17A⁺ cells", "(% of total cell subtypes)"], "values": [0, 20, 40, 60]}},
        "fill": {"field": "k", "type": "nominal", "scale": {"domain": ["w", "k"], "range": ["black", "white"]}, "legend": {"title": null, "orient": "none", "legendX": 6, "legendY": -4, "symbolType": "circle", "symbolSize": 40, "labelExpr": "datum.value == 'w' ? 'Csf3r⁺/⁺' : 'Csf3r⁻/⁻'", "labelOffset": 12}}}},
      {"mark": {"type": "tick", "color": "black", "thickness": 1.5, "size": 16}, "encoding": {"xOffset": {"field": "k", "type": "nominal", "scale": {"domain": ["w", "k"], "paddingInner": 0, "paddingOuter": 0.03}}, "y": {"field": "mean", "type": "quantitative"}}},
      {"mark": {"type": "rule", "color": "black", "strokeWidth": 1.3}, "encoding": {"xOffset": {"field": "k", "type": "nominal", "scale": {"domain": ["w", "k"], "paddingInner": 0, "paddingOuter": 0.03}}, "y": {"field": "lo", "type": "quantitative"}, "y2": {"field": "hi"}}},
      {"transform": [{"fold": ["lo", "hi"], "as": ["e", "cap"]}], "mark": {"type": "tick", "color": "black", "thickness": 1.3, "size": 8}, "encoding": {"xOffset": {"field": "k", "type": "nominal", "scale": {"domain": ["w", "k"], "paddingInner": 0, "paddingOuter": 0.03}}, "y": {"field": "cap", "type": "quantitative"}}},
      {"data": {"name": "Fsig"}, "mark": {"type": "rule", "color": "black", "strokeWidth": 1.2}, "encoding": {"x": {"field": "c", "type": "nominal", "sort": null, "bandPosition": 0.22}, "x2": {"field": "c", "bandPosition": 0.85}, "y": {"field": "y", "type": "quantitative"}}},
      {"data": {"name": "Fsig"}, "mark": {"type": "text", "baseline": "middle", "dy": -5, "fontWeight": "bold"}, "encoding": {"x": {"field": "c", "type": "nominal", "sort": null, "bandPosition": 0.53}, "y": {"field": "y", "type": "quantitative"}, "text": {"field": "t"}, "size": {"condition": {"test": "datum.t == 'ns'", "value": 7.5}, "value": 11}, "color": {"condition": {"test": "datum.t == 'ns'", "value": "#444"}, "value": "black"}}}
     ]},
    {"title": {"text": "G", "offset": -5},
     "width": 120, "height": 118,
     "data": {"name": "G"},
     "resolve": {"scale": {"xOffset": "independent"}},
     "encoding": {"x": {"field": "c", "type": "nominal", "sort": null, "scale": {"paddingInner": 0.2, "paddingOuter": 0.05}, "axis": {"title": null, "labelAngle": 0, "labelOverlap": false}}},
     "layer": [
      {"transform": [{"flatten": ["v"], "as": ["val"]}, {"window": [{"op": "row_number", "as": "i"}], "groupby": ["c", "k"]}, {"calculate": "datum.k + (datum.i % 3)", "as": "s"}],
       "mark": {"type": "point", "shape": "circle", "filled": true, "size": 30, "stroke": "black", "strokeWidth": 1, "opacity": 1},
       "encoding": {"xOffset": {"field": "s", "type": "nominal", "scale": {"domain": ["w1", "w2", "w0", "k1", "k2", "k0"], "paddingInner": 0, "paddingOuter": 0.2}},
        "y": {"field": "val", "type": "quantitative", "scale": {"domain": [0, 2.185], "nice": false}, "axis": {"title": ["ILC1 subsets", "(% of CD45+)"], "values": [0, 0.5, 1, 1.5, 2], "format": ".1f", "domain": false}},
        "fill": {"field": "k", "type": "nominal", "scale": {"domain": ["w", "k"], "range": ["black", "white"]}, "legend": {"title": null, "orient": "none", "legendX": -8, "legendY": -17, "symbolType": "circle", "symbolSize": 40, "labelExpr": "datum.value == 'w' ? 'Csf3r⁺/⁺' : 'Csf3r⁻/⁻'", "labelOffset": 12, "rowPadding": 2}}}},
      {"mark": {"type": "tick", "color": "black", "thickness": 1.5, "size": 16}, "encoding": {"xOffset": {"field": "k", "type": "nominal", "scale": {"domain": ["w", "k"], "paddingInner": 0, "paddingOuter": 0.07}}, "y": {"field": "mean", "type": "quantitative"}}},
      {"mark": {"type": "rule", "color": "black", "strokeWidth": 1.3}, "encoding": {"xOffset": {"field": "k", "type": "nominal", "scale": {"domain": ["w", "k"], "paddingInner": 0, "paddingOuter": 0.07}}, "y": {"field": "lo", "type": "quantitative"}, "y2": {"field": "hi"}}},
      {"transform": [{"fold": ["lo", "hi"], "as": ["e", "cap"]}], "mark": {"type": "tick", "color": "black", "thickness": 1.3, "size": 8}, "encoding": {"xOffset": {"field": "k", "type": "nominal", "scale": {"domain": ["w", "k"], "paddingInner": 0, "paddingOuter": 0.07}}, "y": {"field": "cap", "type": "quantitative"}}},
      {"data": {"name": "Gaxis"}, "mark": {"type": "rule", "color": "black", "strokeWidth": 1.3}, "encoding": {"x": {"field": "c", "type": "nominal", "sort": null, "bandPosition": -0.0625}, "y": {"field": "y", "type": "quantitative"}, "y2": {"field": "y2"}}},
      {"data": {"name": "Gsig"}, "mark": {"type": "rule", "color": "black", "strokeWidth": 1.2}, "encoding": {"x": {"field": "c", "type": "nominal", "sort": null, "bandPosition": 0.22}, "x2": {"field": "c", "bandPosition": 0.9}, "y": {"field": "y", "type": "quantitative"}}},
      {"data": {"name": "Gsig"}, "mark": {"type": "text", "baseline": "middle", "dy": -5, "fontWeight": "bold"}, "encoding": {"x": {"field": "c", "type": "nominal", "sort": null, "bandPosition": 0.56}, "y": {"field": "y", "type": "quantitative"}, "text": {"field": "t"}, "size": {"condition": {"test": "datum.t == 'ns'", "value": 7.5}, "value": 11}, "color": {"condition": {"test": "datum.t == 'ns'", "value": "#444"}, "value": "black"}}},
      {"data": {"name": "Gnote"}, "mark": {"type": "text", "baseline": "middle", "fontWeight": "bold", "fontSize": 11}, "encoding": {"x": {"field": "c", "type": "nominal", "sort": null, "bandPosition": 0.2}, "y": {"field": "y", "type": "quantitative"}, "text": {"field": "t"}}}
     ]},
    {"title": {"text": "H", "offset": -7},
     "width": 118, "height": 118,
     "data": {"name": "H"},
     "resolve": {"scale": {"xOffset": "independent"}},
     "encoding": {"x": {"field": "c", "type": "nominal", "sort": null, "scale": {"paddingInner": 0.2, "paddingOuter": 0.05}, "axis": {"title": null, "labelAngle": 0, "labelExpr": "split(datum.label, '|')", "labelOverlap": false}}},
     "layer": [
      {"transform": [{"flatten": ["v"], "as": ["val"]}, {"window": [{"op": "row_number", "as": "i"}], "groupby": ["c", "k"]}, {"calculate": "datum.k + (datum.i % 3)", "as": "s"}],
       "mark": {"type": "point", "shape": "circle", "filled": true, "size": 30, "stroke": "black", "strokeWidth": 1, "opacity": 1},
       "encoding": {"xOffset": {"field": "s", "type": "nominal", "scale": {"domain": ["w1", "w2", "w0", "k1", "k2", "k0"], "paddingInner": 0, "paddingOuter": 0.24}},
        "y": {"field": "val", "type": "quantitative", "scale": {"domain": [0, 80]}, "axis": {"title": ["Subset frequency", "(% of cNK)"], "values": [0, 20, 40, 60, 80]}},
        "fill": {"field": "k", "type": "nominal", "scale": {"domain": ["w", "k"], "range": ["black", "white"]}, "legend": {"title": null, "orient": "none", "legendX": 3, "legendY": -18, "symbolType": "circle", "symbolSize": 40, "labelExpr": "datum.value == 'w' ? 'Csf3r⁺/⁺' : 'Csf3r⁻/⁻'", "labelOffset": 12, "rowPadding": 1}}}},
      {"mark": {"type": "tick", "color": "black", "thickness": 1.5, "size": 16}, "encoding": {"xOffset": {"field": "k", "type": "nominal", "scale": {"domain": ["w", "k"], "paddingInner": 0, "paddingOuter": 0.08}}, "y": {"field": "mean", "type": "quantitative"}}},
      {"mark": {"type": "rule", "color": "black", "strokeWidth": 1.3}, "encoding": {"xOffset": {"field": "k", "type": "nominal", "scale": {"domain": ["w", "k"], "paddingInner": 0, "paddingOuter": 0.08}}, "y": {"field": "lo", "type": "quantitative"}, "y2": {"field": "hi"}}},
      {"transform": [{"fold": ["lo", "hi"], "as": ["e", "cap"]}], "mark": {"type": "tick", "color": "black", "thickness": 1.3, "size": 8}, "encoding": {"xOffset": {"field": "k", "type": "nominal", "scale": {"domain": ["w", "k"], "paddingInner": 0, "paddingOuter": 0.08}}, "y": {"field": "cap", "type": "quantitative"}}},
      {"data": {"name": "Hsig"}, "mark": {"type": "rule", "color": "black", "strokeWidth": 1.2}, "encoding": {"x": {"field": "c", "type": "nominal", "sort": null, "bandPosition": 0.15}, "x2": {"field": "c", "bandPosition": 0.88}, "y": {"field": "y", "type": "quantitative"}}},
      {"data": {"name": "Hsig"}, "mark": {"type": "text", "baseline": "middle", "dy": -5, "fontWeight": "bold"}, "encoding": {"x": {"field": "c", "type": "nominal", "sort": null, "bandPosition": 0.5}, "y": {"field": "y", "type": "quantitative"}, "text": {"field": "t"}, "size": {"condition": {"test": "datum.t == 'ns'", "value": 7.5}, "value": 11}, "color": {"condition": {"test": "datum.t == 'ns'", "value": "#444"}, "value": "black"}}},
      {"data": {"name": "Hnote"}, "mark": {"type": "text", "baseline": "middle", "fontWeight": "bold", "fontSize": 11}, "encoding": {"x": {"field": "c", "type": "nominal", "sort": null, "bandPosition": 0.22}, "y": {"field": "y", "type": "quantitative"}, "text": {"field": "t"}}}
     ]}
   ], "spacing": 80, "bounds": "flush",
   "resolve": {"scale": {"fill": "independent", "shape": "independent", "size": "independent", "color": "independent"}, "legend": {"fill": "independent", "shape": "independent", "size": "independent"}}},
   {"hconcat": [
    {"title": {"text": "I", "offset": 0},
     "width": 237, "height": 118,
     "data": {"name": "I"},
     "resolve": {"scale": {"xOffset": "independent"}},
     "encoding": {"x": {"field": "c", "type": "nominal", "sort": null, "scale": {"paddingInner": 0.21, "paddingOuter": 0.05, "align": 0.7}, "axis": {"title": null, "labelAngle": 0, "labelExpr": "split(datum.label, '|')[1]", "labelOverlap": false, "labelFontSize": 9.5, "labelPadding": 1}}},
     "layer": [
      {"mark": {"type": "bar", "stroke": "black", "strokeWidth": 1},
       "encoding": {"xOffset": {"field": "k", "type": "nominal", "scale": {"domain": ["w", "k", "n"], "paddingInner": 0.04, "paddingOuter": 0}},
        "y": {"field": "mean", "type": "quantitative", "scale": {"domain": [0, 50]}, "axis": {"title": "Positive cells (%)", "values": [0, 10, 20, 30, 40, 50], "titlePadding": 18}},
        "fill": {"field": "k", "type": "nominal", "scale": {"domain": ["w", "k", "n"], "range": ["black", "white", "#8c8c8c"]}, "legend": {"title": null, "orient": "none", "legendX": 5, "legendY": 1, "symbolType": "square", "symbolSize": 110, "labelExpr": "datum.value == 'w' ? 'Csf3r⁺/⁺' : datum.value == 'k' ? 'Csf3r⁻/⁻' : 'Csf3r⁻/⁻ + Nφ'", "labelFontSize": 10, "rowPadding": 2}}}},
      {"transform": [{"flatten": ["v"], "as": ["val"]}, {"window": [{"op": "row_number", "as": "i"}], "groupby": ["c", "k"]}, {"calculate": "datum.k + (datum.i % 3)", "as": "s"}],
       "mark": {"type": "point", "shape": "circle", "filled": true, "fill": "white", "size": 16, "stroke": "black", "strokeWidth": 0.8, "opacity": 1},
       "encoding": {"xOffset": {"field": "s", "type": "nominal", "scale": {"domain": ["w1", "w2", "w0", "k1", "k2", "k0", "n1", "n2", "n0"], "paddingInner": 0, "paddingOuter": 0.1}}, "y": {"field": "val", "type": "quantitative"}}},
      {"mark": {"type": "rule", "color": "black", "strokeWidth": 1.2}, "encoding": {"xOffset": {"field": "k", "type": "nominal", "scale": {"domain": ["w", "k", "n"], "paddingInner": 0.04, "paddingOuter": 0}}, "y": {"field": "lo", "type": "quantitative"}, "y2": {"field": "hi"}}},
      {"transform": [{"fold": ["lo", "hi"], "as": ["e", "cap"]}], "mark": {"type": "tick", "color": "black", "thickness": 1.2, "size": 6}, "encoding": {"xOffset": {"field": "k", "type": "nominal", "scale": {"domain": ["w", "k", "n"], "paddingInner": 0.04, "paddingOuter": 0}}, "y": {"field": "cap", "type": "quantitative"}}},
      {"data": {"name": "Isig"}, "transform": [{"filter": "datum.p == 'A'"}], "mark": {"type": "rule", "color": "black", "strokeWidth": 1.2}, "encoding": {"x": {"field": "c", "type": "nominal", "sort": null, "bandPosition": 0.06}, "x2": {"field": "c", "bandPosition": 0.94}, "y": {"field": "y", "type": "quantitative"}}},
      {"data": {"name": "Isig"}, "transform": [{"filter": "datum.p == 'L'"}], "mark": {"type": "rule", "color": "black", "strokeWidth": 1.2}, "encoding": {"x": {"field": "c", "type": "nominal", "sort": null, "bandPosition": 0.06}, "x2": {"field": "c", "bandPosition": 0.48}, "y": {"field": "y", "type": "quantitative"}}},
      {"data": {"name": "Isig"}, "transform": [{"filter": "datum.p == 'R'"}], "mark": {"type": "rule", "color": "black", "strokeWidth": 1.2}, "encoding": {"x": {"field": "c", "type": "nominal", "sort": null, "bandPosition": 0.52}, "x2": {"field": "c", "bandPosition": 0.94}, "y": {"field": "y", "type": "quantitative"}}},
      {"data": {"name": "Isig"}, "transform": [{"filter": "datum.p == 'A'"}], "mark": {"type": "text", "baseline": "middle", "dy": -5, "fontWeight": "bold"}, "encoding": {"x": {"field": "c", "type": "nominal", "sort": null, "bandPosition": 0.5}, "y": {"field": "y", "type": "quantitative"}, "text": {"field": "t"}, "size": {"condition": {"test": "datum.t == 'ns' || indexof(datum.t, 'p') == 0", "value": 7.5}, "value": 11}, "color": {"condition": {"test": "datum.t == 'ns'", "value": "#444"}, "value": "black"}}},
      {"data": {"name": "Isig"}, "transform": [{"filter": "datum.p == 'L'"}], "mark": {"type": "text", "baseline": "middle", "dy": -5, "fontWeight": "bold"}, "encoding": {"x": {"field": "c", "type": "nominal", "sort": null, "bandPosition": 0.27}, "y": {"field": "y", "type": "quantitative"}, "text": {"field": "t"}, "size": {"condition": {"test": "datum.t == 'ns' || indexof(datum.t, 'p') == 0", "value": 7.5}, "value": 11}, "color": {"condition": {"test": "datum.t == 'ns'", "value": "#444"}, "value": "black"}}},
      {"data": {"name": "Isig"}, "transform": [{"filter": "datum.p == 'R'"}], "mark": {"type": "text", "baseline": "middle", "dy": -5, "fontWeight": "bold"}, "encoding": {"x": {"field": "c", "type": "nominal", "sort": null, "bandPosition": 0.73}, "y": {"field": "y", "type": "quantitative"}, "text": {"field": "t"}, "size": {"condition": {"test": "datum.t == 'ns' || indexof(datum.t, 'p') == 0", "value": 7.5}, "value": 11}, "color": {"condition": {"test": "datum.t == 'ns'", "value": "#444"}, "value": "black"}}},
      {"data": {"name": "Igrp"}, "mark": {"type": "rule", "color": "black", "strokeWidth": 1.2}, "encoding": {"x": {"field": "a", "type": "nominal", "sort": null, "bandPosition": 0}, "x2": {"field": "b", "bandPosition": 1}, "y": {"datum": -6.3}}},
      {"data": {"name": "Igrp"}, "mark": {"type": "text", "baseline": "middle", "fontWeight": "bold", "fontSize": 10.5}, "encoding": {"x": {"field": "m", "type": "nominal", "sort": null, "bandPosition": 0.5}, "y": {"datum": -10.5}, "text": {"field": "t"}}},
      {"data": {"name": "Inote"}, "mark": {"type": "text", "baseline": "middle", "fontWeight": "bold", "fontSize": 11}, "encoding": {"x": {"field": "c", "type": "nominal", "sort": null, "bandPosition": 0.09}, "y": {"field": "y", "type": "quantitative"}, "text": {"field": "t"}}}
     ]},
    {"title": {"text": "J", "offset": 1},
     "width": 177, "height": 118,
     "data": {"name": "J"},
     "resolve": {"scale": {"xOffset": "independent"}},
     "encoding": {"x": {"field": "c", "type": "nominal", "sort": null, "scale": {"paddingInner": 0.2, "paddingOuter": 0.05}, "axis": {"title": null, "labelAngle": 0, "labelExpr": "split(datum.label, '|')", "labelOverlap": false}}},
     "layer": [
      {"transform": [{"flatten": ["v"], "as": ["val"]}, {"window": [{"op": "row_number", "as": "i"}], "groupby": ["c", "k"]}, {"calculate": "datum.k + (datum.i % 3)", "as": "s"}],
       "mark": {"type": "point", "shape": "circle", "filled": true, "size": 30, "stroke": "black", "strokeWidth": 1, "opacity": 1},
       "encoding": {"xOffset": {"field": "s", "type": "nominal", "scale": {"domain": ["w1", "w2", "w0", "k1", "k2", "k0"], "paddingInner": 0, "paddingOuter": 0.5}},
        "y": {"field": "val", "type": "quantitative", "scale": {"domain": [0, 30]}, "axis": {"title": ["Cell subsets", "(% of CD45+ cells)"], "values": [0, 5, 10, 15, 20, 25, 30]}},
        "fill": {"field": "k", "type": "nominal", "scale": {"domain": ["w", "k"], "range": ["black", "white"]}, "legend": {"title": null, "orient": "none", "legendX": 3, "legendY": -18, "symbolType": "circle", "symbolSize": 40, "labelExpr": "datum.value == 'w' ? 'Csf3r⁺/⁺' : 'Csf3r⁻/⁻'", "labelOffset": 12, "rowPadding": 1}}}},
      {"mark": {"type": "tick", "color": "black", "thickness": 1.5, "size": 16}, "encoding": {"xOffset": {"field": "k", "type": "nominal", "scale": {"domain": ["w", "k"], "paddingInner": 0, "paddingOuter": 0.17}}, "y": {"field": "mean", "type": "quantitative"}}},
      {"mark": {"type": "rule", "color": "black", "strokeWidth": 1.3}, "encoding": {"xOffset": {"field": "k", "type": "nominal", "scale": {"domain": ["w", "k"], "paddingInner": 0, "paddingOuter": 0.17}}, "y": {"field": "lo", "type": "quantitative"}, "y2": {"field": "hi"}}},
      {"transform": [{"fold": ["lo", "hi"], "as": ["e", "cap"]}], "mark": {"type": "tick", "color": "black", "thickness": 1.3, "size": 8}, "encoding": {"xOffset": {"field": "k", "type": "nominal", "scale": {"domain": ["w", "k"], "paddingInner": 0, "paddingOuter": 0.17}}, "y": {"field": "cap", "type": "quantitative"}}},
      {"data": {"name": "Jsig"}, "mark": {"type": "rule", "color": "black", "strokeWidth": 1.2}, "encoding": {"x": {"field": "c", "type": "nominal", "sort": null, "bandPosition": 0.12}, "x2": {"field": "c", "bandPosition": 0.88}, "y": {"field": "y", "type": "quantitative"}}},
      {"data": {"name": "Jsig"}, "mark": {"type": "text", "baseline": "middle", "dy": -5, "fontWeight": "bold"}, "encoding": {"x": {"field": "c", "type": "nominal", "sort": null, "bandPosition": 0.5}, "y": {"field": "y", "type": "quantitative"}, "text": {"field": "t"}, "size": {"condition": {"test": "datum.t == 'ns'", "value": 7.5}, "value": 11}, "color": {"condition": {"test": "datum.t == 'ns'", "value": "#444"}, "value": "black"}}},
      {"data": {"name": "Jnote"}, "mark": {"type": "text", "baseline": "middle", "fontWeight": "bold", "fontSize": 11}, "encoding": {"x": {"field": "c", "type": "nominal", "sort": null, "bandPosition": 0.22}, "y": {"field": "y", "type": "quantitative"}, "text": {"field": "t"}}}
     ]}
   ], "spacing": 64, "bounds": "flush",
   "resolve": {"scale": {"fill": "independent", "shape": "independent", "size": "independent", "color": "independent"}, "legend": {"fill": "independent", "shape": "independent", "size": "independent"}}}
  ], "spacing": 11,
  "resolve": {"scale": {"fill": "independent", "shape": "independent", "size": "independent", "color": "independent"}, "legend": {"fill": "independent", "shape": "independent", "size": "independent"}}}
 ], "spacing": 21,
 "resolve": {"scale": {"fill": "independent", "shape": "independent", "size": "independent", "color": "independent"}, "legend": {"fill": "independent", "shape": "independent", "size": "independent"}}}
]
}
